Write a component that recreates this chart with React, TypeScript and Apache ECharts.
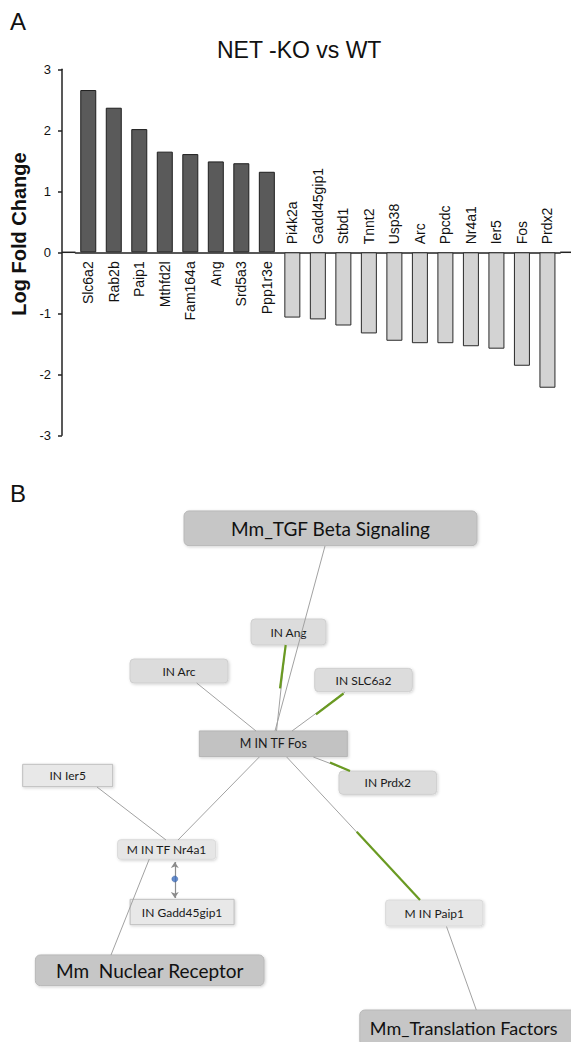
import React, { useEffect, useRef } from 'react';
import * as echarts from 'echarts';

// ---------- Panel A data ----------
const genes = ['Slc6a2', 'Rab2b', 'Paip1', 'Mthfd2l', 'Fam164a', 'Ang', 'Srd5a3', 'Ppp1r3e', 'Pi4k2a', 'Gadd45gip1', 'Stbd1', 'Tnnt2', 'Usp38', 'Arc', 'Ppcdc', 'Nr4a1', 'Ier5', 'Fos', 'Prdx2'];
const logFoldChange = [2.66, 2.37, 2.02, 1.65, 1.61, 1.49, 1.46, 1.32, -1.07, -1.10, -1.20, -1.33, -1.45, -1.49, -1.49, -1.54, -1.58, -1.86, -2.22];
const yMin = -3;
const yMax = 3;
const yStep = 1;
const chartTitle = 'NET -KO vs WT';
const yTitle = 'Log Fold Change';

// ---------- Panel B data (network) ----------
const networkNodes = ['Mm_TGF Beta Signaling', 'IN Ang', 'IN Arc', 'IN SLC6a2', 'M IN TF Fos', 'IN Ier5', 'IN Prdx2', 'M IN TF Nr4a1', 'IN Gadd45gip1', 'M IN Paip1', 'Mm  Nuclear Receptor', 'Mm_Translation Factors'];
const nodeKinds = ['pathway', 'gene', 'gene', 'gene', 'hub', 'flat', 'gene', 'light', 'flat', 'light', 'pathway', 'pathwayEdge'];
const networkLinks = [
  ['Mm_TGF Beta Signaling', 'M IN TF Fos'],
  ['IN Ang', 'M IN TF Fos'],
  ['IN Arc', 'M IN TF Fos'],
  ['IN SLC6a2', 'M IN TF Fos'],
  ['M IN TF Fos', 'IN Prdx2'],
  ['M IN TF Fos', 'M IN TF Nr4a1'],
  ['M IN TF Fos', 'M IN Paip1'],
  ['IN Ier5', 'M IN TF Nr4a1'],
  ['M IN TF Nr4a1', 'Mm  Nuclear Receptor'],
  ['M IN Paip1', 'Mm_Translation Factors'],
];
const bindingLinks = [['M IN TF Nr4a1', 'IN Gadd45gip1']];

// ---------- Panel B layout (diagram coordinates) ----------
const nodeLayout = [
  [330.5, 528.3, 293, 34.7],
  [288.5, 632, 75, 26],
  [179, 671, 98, 24],
  [363.5, 680, 97.6, 23.4],
  [273.3, 743.8, 148, 25.7],
  [67.7, 775.5, 90, 22.4],
  [387.8, 782.7, 97.7, 23.3],
  [166.6, 849.5, 98, 19.5],
  [182.1, 912, 104, 25.4],
  [434.3, 913, 97.3, 26],
  [149.7, 970.3, 228.7, 30.7],
  [473.6, 1028, 227.6, 36],
];
const linkLayout = [
  [[325, 546], [275, 731]],
  [[285.7, 645], [276.5, 731]],
  [[196.7, 683], [256, 731]],
  [[345, 692], [292, 731]],
  [[313.3, 757], [350, 771]],
  [[259.3, 757], [178, 840]],
  [[286.7, 757], [420, 900]],
  [[97, 787], [166, 840]],
  [[149.3, 859], [111, 955]],
  [[446.5, 926.5], [476.3, 1010]],
];
const greenLayout = [
  [[285.7, 645], [280, 688.3]],
  [[343.5, 693.5], [316, 714.3]],
  [[330, 762.5], [350, 771]],
  [[356.7, 831.7], [420, 900]],
];
const bindingLayout = [[[174.8, 862], [174.8, 898]]];
const bindingDot = [[174.8, 879]];

const W = 571;
const H = 1042;

const kindStyle: Record<string, any> = {
  pathway: { fill: '#c6c6c6', stroke: '#b8b8b8', r: 5, font: 19, align: 'center' },
  pathwayEdge: { fill: '#c6c6c6', stroke: '#b8b8b8', r: 5, font: 18, align: 'left' },
  gene: { fill: '#dcdcdc', stroke: '#cfcfcf', r: 4, font: 12, align: 'center' },
  hub: { fill: '#c2c2c2', stroke: '#b5b5b5', r: 0, font: 12.5, align: 'center' },
  flat: { fill: '#e8e8e8', stroke: '#bdbdbd', r: 0, font: 12, align: 'center' },
  light: { fill: '#e6e6e6', stroke: '#dadada', r: 3, font: 12, align: 'center' },
};

const A_FONT = 'Liberation Sans, Arial, Helvetica, sans-serif';
const B_FONT = 'Lato, "Open Sans", sans-serif';

export default function App() {
  const ref = useRef<HTMLDivElement>(null);
  useEffect(() => {
    if (!ref.current) return;
    const chart = echarts.init(ref.current, undefined, { renderer: 'svg' });
    const gridLeft = 75.5;
    const gridRight = 10.8;
    const gridTop = 69.3;
    const gridHeight = 366;
    const yOffset = 13.5;

    const option: any = {
      animation: false,
      backgroundColor: '#ffffff',
      title: {
        text: chartTitle,
        left: 212,
        top: 33,
        textStyle: { fontFamily: A_FONT, fontSize: 23, fontWeight: 'normal', color: '#111' },
      },
      grid: [
        { left: gridLeft, right: gridRight, top: gridTop, height: gridHeight },
        { left: 0, top: 0, width: W, height: H },
      ],
      xAxis: [
        {
          type: 'category', gridIndex: 0, data: genes, position: 'bottom',
          axisLine: { onZero: true, lineStyle: { color: '#222', width: 1.5 } },
          axisTick: { show: false },
          axisLabel: { show: false },
        },
        { type: 'value', gridIndex: 1, min: 0, max: W, show: false },
      ],
      yAxis: [
        {
          type: 'value', gridIndex: 0, min: yMin, max: yMax, interval: yStep, offset: yOffset,
          axisLine: { show: true, lineStyle: { color: '#222', width: 1.5 } },
          axisTick: { show: true, length: 4, lineStyle: { color: '#222', width: 1.5 } },
          axisLabel: { margin: 11, fontFamily: A_FONT, fontSize: 13, color: '#111' },
          splitLine: { show: false },
        },
        { type: 'value', gridIndex: 1, min: 0, max: H, inverse: true, show: false },
      ],
      series: [
        {
          type: 'bar', xAxisIndex: 0, yAxisIndex: 0, barWidth: 16,
          data: logFoldChange.map((v) => ({
            value: v,
            itemStyle: v > 0
              ? { color: '#5a5a5a', borderColor: '#1e1e1e', borderWidth: 1 }
              : { color: '#d3d3d3', borderColor: '#2a2a2a', borderWidth: 1 },
          })),
        },
        {
          // gene name labels, placed on the opposite side of the zero line from each bar
          type: 'custom', xAxisIndex: 0, yAxisIndex: 0, z: 3, clip: false,
          data: logFoldChange.map((v, i) => [i, v]),
          renderItem: (params: any, api: any) => {
            const i = params.dataIndex;
            const p = api.coord([api.value(0), 0]);
            const up = api.value(1) < 0;
            return {
              type: 'text',
              x: p[0],
              y: up ? p[1] - 8 : p[1] + 9,
              rotation: Math.PI / 2,
              style: {
                text: genes[i], align: up ? 'left' : 'right', verticalAlign: 'middle',
                fontFamily: A_FONT, fontSize: 14, fill: '#111',
              },
            };
          },
        },
        {
          type: 'custom', xAxisIndex: 1, yAxisIndex: 1, z: 2, clip: false,
          data: nodeLayout,
          renderItem: (params: any, api: any) => {
            const i = params.dataIndex;
            const c = api.coord([api.value(0), api.value(1)]);
            const s = api.size([api.value(2), api.value(3)]);
            const st = kindStyle[nodeKinds[i]];
            const isPath = nodeKinds[i].indexOf('pathway') === 0;
            const tx = st.align === 'left' ? c[0] - s[0] / 2 + 10 : c[0];
            return {
              type: 'group',
              children: [
                {
                  type: 'rect',
                  shape: { x: c[0] - s[0] / 2, y: c[1] - s[1] / 2, width: s[0], height: s[1], r: st.r },
                  style: {
                    fill: st.fill, stroke: st.stroke, lineWidth: 1,
                    shadowBlur: 3, shadowColor: 'rgba(0,0,0,0.18)', shadowOffsetX: 1, shadowOffsetY: 1,
                  },
                },
                {
                  type: 'text',
                  style: {
                    text: networkNodes[i], x: tx, y: c[1], align: st.align, verticalAlign: 'middle',
                    fontFamily: B_FONT, fontSize: st.font, fill: isPath ? '#111' : '#1a1a1a',
                  },
                },
              ],
            };
          },
        },
        {
          type: 'lines', coordinateSystem: 'cartesian2d', xAxisIndex: 1, yAxisIndex: 1, z: 3,
          data: linkLayout.map((coords, i) => ({ name: networkLinks[i].join(' → '), coords })),
          lineStyle: { color: '#a2a2a2', width: 1, opacity: 1 },
        },
        {
          type: 'lines', coordinateSystem: 'cartesian2d', xAxisIndex: 1, yAxisIndex: 1, z: 4,
          data: greenLayout.map((coords) => ({ coords })),
          lineStyle: { color: '#6a9a22', width: 2.2, opacity: 1 },
        },
        {
          type: 'lines', coordinateSystem: 'cartesian2d', xAxisIndex: 1, yAxisIndex: 1, z: 4,
          symbol: ['arrow', 'arrow'], symbolSize: 6,
          data: bindingLayout.map((coords, i) => ({ name: bindingLinks[i].join(' ↔ '), coords })),
          lineStyle: { color: '#8c8c8c', width: 1.2, opacity: 1 },
        },
        {
          type: 'scatter', xAxisIndex: 1, yAxisIndex: 1, z: 5, symbolSize: 6,
          data: bindingDot,
          itemStyle: { color: '#3d6fc0', borderColor: '#2a4f90', borderWidth: 0.5 },
        },
      ],
    };
    chart.setOption(option);

    const y0 = chart.convertToPixel({ yAxisIndex: 0 }, 0) as number;
    const axisX = gridLeft - yOffset;
    chart.setOption({
      graphic: [
        { type: 'text', left: 10, top: 9, style: { text: 'A', fontFamily: A_FONT, fontSize: 24, fill: '#111' } },
        { type: 'text', left: 10, top: 481, style: { text: 'B', fontFamily: A_FONT, fontSize: 24, fill: '#111' } },
        {
          type: 'text', x: 19, y: 234, rotation: Math.PI / 2,
          style: { text: yTitle, align: 'center', verticalAlign: 'middle', fontFamily: A_FONT, fontSize: 20, fontWeight: 'bold', fill: '#111' },
        },
        { type: 'line', shape: { x1: axisX, y1: y0, x2: gridLeft, y2: y0 }, style: { stroke: '#222', lineWidth: 1.5 } },
        { type: 'line', shape: { x1: W - gridRight, y1: y0, x2: W, y2: y0 }, style: { stroke: '#222', lineWidth: 1.5 } },
      ],
    });

    return () => chart.dispose();
  }, []);
  return <div ref={ref} style={{ position: 'absolute', left: 0, top: 0, width: W, height: H }} />;
}
